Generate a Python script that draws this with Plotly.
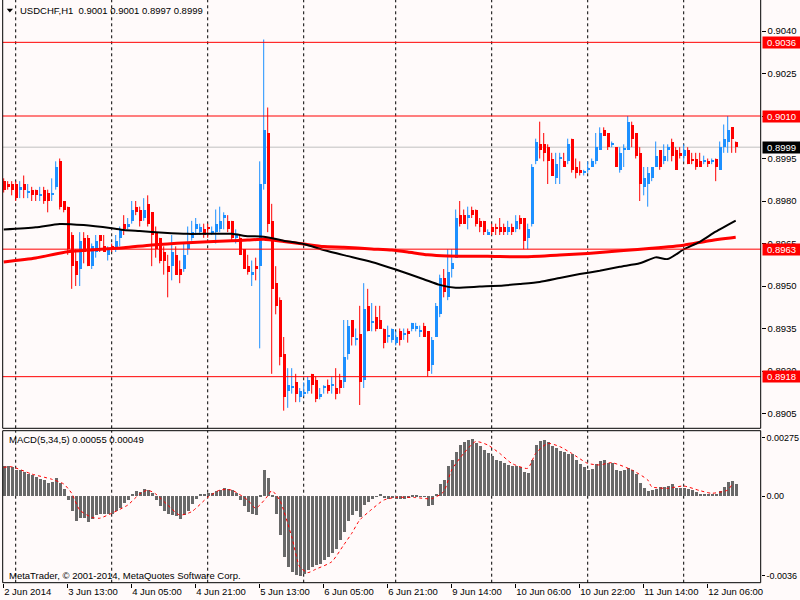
import plotly.graph_objects as go

# ---------------- data (USDCHF H1, bar index 0 = 2 Jun 2014 21:00) ----------------
opens = [
 .8987,.8986,.8986,
 .8986,.8984,.8986,.8983,.8984,.8984,.8982,.8984,.8983,.8982,.8985,.8994,.8980,.8978,.8968,.8959,.8956,.8967,.8967,.8957,.8962,.8968,.8964,.8961,
 .8964,.8963,.8967,.8972,.8971,.8973,.8978,.8977,.8974,.8979,.8976,.8969,.8967,.8962,.8957,.8957,.8961,.8956,.8956,.8963,.8967,.8970,.8969,.8970,
 .8971,.8969,.8969,.8970,.8974,.8973,.8973,.8967,.8967,.8963,.8957,.8954,.8957,.8957,.8986,.9004,.8973,.8951,.8945,.8926,.8913,.8914,.8916,.8911,
 .8912,.8913,.8919,.8917,.8911,.8914,.8915,.8915,.8914,.8917,.8916,.8926,.8938,.8931,.8933,.8917,.8943,.8937,.8939,.8938,.8935,.8932,.8931,
 .8930,.8934,.8933,.8934,.8935,.8935,.8934,.8936,.8934,.8922,.8932,.8940,.8953,.8946,.8956,.8960,.8975,.8975,.8974,.8977,.8977,.8973,.8973,.8968,
 .8971,.8971,.8971,.8971,.8969,.8971,.8970,.8974,.8974,.8967,.8972,.8994,.9000,.9000,.8999,.8995,.8988,.8995,.8994,.8994,.9002,.8992,.8991,.8990,
 .8991,.8992,.8994,.8998,.9005,.9004,.9000,.8999,.8991,.8998,.8998,.9007,.9004,.8997,.8985,.8986,.8988,.8992,.8998,.8994,.8998,.9001,.8998,.8997,
 .8996,.8998,.8995,.8995,.8994,.8994,.8994,.8994,.8995,.8991,.8999,.9001,.9006,.9001]
highs = [
 .8988,.8987,.8987,
 .8987,.8987,.8989,.8986,.8985,.8984,.8985,.8985,.8984,.8988,.8994,.8995,.8980,.8978,.8969,.8963,.8969,.8969,.8968,.8965,.8968,.8968,.8968,.8964,
 .8965,.8968,.8971,.8975,.8974,.8980,.8980,.8978,.8981,.8982,.8976,.8971,.8967,.8964,.8961,.8968,.8964,.8959,.8965,.8971,.8973,.8974,.8972,.8972,
 .8972,.8971,.8977,.8978,.8976,.8975,.8973,.8970,.8968,.8963,.8961,.8959,.8960,.8994,.9037,.9013,.8979,.8957,.8946,.8932,.8921,.8921,.8919,.8914,
 .8916,.8918,.8919,.8918,.8914,.8915,.8917,.8918,.8921,.8919,.8938,.8938,.8938,.8935,.8943,.8951,.8949,.8944,.8943,.8943,.8935,.8936,.8935,
 .8934,.8935,.8935,.8935,.8937,.8937,.8936,.8937,.8934,.8932,.8944,.8954,.8956,.8963,.8963,.8977,.8980,.8977,.8978,.8978,.8977,.8974,.8973,.8970,
 .8972,.8972,.8974,.8972,.8973,.8972,.8975,.8975,.8974,.8972,.8993,.9002,.9008,.9004,.9000,.8997,.8997,.8997,.8997,.9002,.9002,.8995,.8994,.8991,
 .8994,.8995,.9004,.9006,.9006,.9004,.9001,.8999,.8999,.9000,.9010,.9008,.9004,.8999,.8992,.8992,.8992,.9001,.8998,.9000,.9000,.9002,.8999,.8999,
 .9000,.8999,.8997,.8997,.8997,.8996,.8995,.8995,.8995,.9001,.9007,.9010,.9006,.9001]
lows = [
 .8983,.8984,.8982,
 .8980,.8981,.8981,.8981,.8980,.8980,.8980,.8979,.8976,.8980,.8984,.8977,.8976,.8961,.8949,.8950,.8950,.8958,.8957,.8956,.8960,.8962,.8962,.8959,
 .8962,.8962,.8964,.8968,.8970,.8972,.8975,.8971,.8973,.8971,.8957,.8960,.8958,.8954,.8946,.8952,.8954,.8951,.8955,.8961,.8966,.8968,.8968,.8967,
 .8967,.8968,.8965,.8969,.8970,.8969,.8966,.8965,.8961,.8956,.8954,.8950,.8952,.8928,.8984,.8969,.8919,.8940,.8922,.8906,.8907,.8912,.8909,.8909,
 .8911,.8912,.8912,.8909,.8910,.8912,.8912,.8912,.8910,.8912,.8914,.8924,.8929,.8929,.8908,.8914,.8934,.8934,.8934,.8935,.8928,.8930,.8930,
 .8929,.8929,.8931,.8930,.8934,.8934,.8932,.8932,.8918,.8919,.8932,.8939,.8946,.8945,.8953,.8960,.8971,.8972,.8970,.8974,.8971,.8969,.8968,.8968,
 .8968,.8968,.8968,.8968,.8968,.8968,.8969,.8970,.8963,.8963,.8971,.8993,.8995,.8994,.8986,.8989,.8986,.8986,.8992,.8993,.8990,.8988,.8989,.8989,
 .8990,.8992,.8993,.8998,.9003,.8998,.8999,.8992,.8990,.8992,.8998,.8999,.8995,.8980,.8982,.8978,.8987,.8992,.8991,.8993,.8994,.8994,.8991,.8995,
 .8994,.8993,.8993,.8991,.8992,.8993,.8992,.8993,.8987,.8991,.8997,.8997,.8997,.8997]
closes = [
 .8984,.8985,.8984,
 .8981,.8985,.8984,.8983,.8982,.8982,.8982,.8980,.8980,.8983,.8992,.8978,.8977,.8963,.8957,.8954,.8966,.8962,.8957,.8964,.8966,.8966,.8962,.8963,
 .8963,.8966,.8970,.8970,.8972,.8977,.8976,.8973,.8977,.8972,.8968,.8963,.8959,.8959,.8955,.8962,.8954,.8954,.8961,.8965,.8969,.8972,.8971,.8968,
 .8970,.8969,.8972,.8973,.8975,.8970,.8967,.8968,.8961,.8956,.8955,.8955,.8956,.8986,.9005,.8972,.8949,.8943,.8925,.8911,.8915,.8914,.8912,.8913,
 .8912,.8917,.8915,.8910,.8912,.8914,.8913,.8915,.8912,.8914,.8925,.8936,.8932,.8931,.8916,.8942,.8934,.8937,.8935,.8935,.8930,.8932,.8935,
 .8932,.8931,.8933,.8933,.8937,.8936,.8934,.8932,.8920,.8931,.8943,.8953,.8948,.8955,.8958,.8974,.8972,.8972,.8975,.8975,.8972,.8971,.8969,.8969,
 .8969,.8970,.8969,.8969,.8971,.8969,.8973,.8972,.8966,.8970,.8992,.9001,.8998,.8997,.8994,.8989,.8993,.8995,.8992,.9000,.8991,.8990,.8990,.8990,
 .8991,.8994,.8999,.9004,.9003,.8999,.9000,.8992,.8997,.8998,.9008,.9002,.8996,.8986,.8988,.8990,.8992,.8996,.8992,.8996,.8999,.8996,.8991,.8996,
 .8998,.8993,.8994,.8992,.8992,.8994,.8993,.8994,.8992,.8999,.9002,.9005,.9002,.8999]

ma_red_idx = [0, 8, 16, 30, 37, 46, 51, 57, 61, 65, 70, 75, 80, 85, 92, 97, 101, 106, 111, 121, 130, 139, 146, 155, 162, 170, 176, 183]
ma_red_val = [.89585, .89599, .89621, .89635, .89645, .89653, .89656, .89660, .89662, .89665, .89657, .89648, .89639, .89637,
              .89631, .89627, .89620, .89610, .89606, .89605, .89603, .89609, .89615, .89625, .89633, .89644, .89659, .89672]
ma_black_idx = [0, 8, 14, 20, 27, 30, 34, 40, 46, 57, 61, 65, 70, 75, 80, 85, 92, 98, 105, 109, 113, 119, 125, 129, 134, 139,
                144, 149, 154, 159, 163, 166, 170, 174, 178, 183]
ma_black_val = [.89699, .89707, .89719, .89715, .89704, .89698, .89694, .89688, .89684, .89684, .89676, .89674, .89660, .89648,
                .89627, .89609, .89585, .89558, .89524, .89504, .89494, .89498, .89502, .89507, .89514, .89528, .89542, .89554,
                .89568, .89580, .89601, .89595, .89629, .89656, .89692, .89731]

macd_hist = [
 .00132,.00132,.00129,
 .00118,.00115,.00107,.00097,.00093,.00085,.00078,.00071,.00059,.00063,.00082,.00059,.00034,-.00015,-.00065,-.00109,-.00094,-.00094,-.00113,-.00098,-.00084,-.00076,-.00079,-.00079,
 -.00079,-.00065,-.00050,-.00029,-.00015,.00012,.00024,.00019,.00034,.00029,.00015,-.00015,-.00044,-.00065,-.00079,-.00084,-.00088,-.00098,-.00084,-.00065,-.00035,-.00010,.00009,.00009,
 .00015,.00015,.00024,.00029,.00038,.00034,.00026,.00015,-.00015,-.00044,-.00069,-.00079,-.00084,.00004,.00115,.00082,.00003,-.00076,-.00172,-.00268,-.00312,-.00334,-.00348,-.00353,
 -.00341,-.00323,-.00312,-.00304,-.00297,-.00282,-.00268,-.00250,-.00231,-.00194,-.00157,-.00109,-.00084,-.00065,-.00091,-.00040,-.00025,-.00010,.00001,.00009,-.00006,-.00010,-.00006,
 -.00010,-.00010,-.00010,-.00006,.00003,.00004,.00001,-.00003,-.00044,-.00040,.00009,.00053,.00074,.00132,.00162,.00196,.00225,.00240,.00247,.00254,.00235,.00221,.00206,.00191,
 .00176,.00162,.00156,.00147,.00137,.00132,.00132,.00129,.00107,.00103,.00159,.00225,.00244,.00250,.00240,.00221,.00215,.00200,.00196,.00188,.00185,.00162,.00144,.00129,
 .00118,.00122,.00141,.00156,.00162,.00147,.00147,.00115,.00112,.00118,.00126,.00115,.00097,.00059,.00038,.00024,.00026,.00034,.00041,.00041,.00047,.00053,.00038,.00038,
 .00038,.00034,.00026,.00019,.00012,.00012,.00009,.00009,.00012,.00024,.00041,.00063,.00068,.00055]

sig_idx = [0, 2, 7, 12, 15, 17, 19, 22, 24, 27, 31, 34, 36, 38, 41, 44, 47, 51, 54, 57, 61, 63, 66, 67, 69, 72, 74, 76, 78,
           82, 85, 87, 89, 92, 95, 98, 103, 107, 110, 112, 115, 118, 121, 124, 127, 131, 133, 136, 139, 142, 146, 149, 152,
           157, 161, 162, 166, 170, 174, 177, 181, 182]
sig_val = [.00126, .00129, .00097, .00074, .00053, .00012, -.00062, -.00094, -.00098, -.00076, -.00040, .00009, .00026, .00009,
           -.00040, -.00084, -.00069, -.00006, .00026, .00026, -.00018, -.00054, .00000, .00024, -.00018, -.00179, -.00312,
           -.00338, -.00323, -.00290, -.00216, -.00165, -.00106, -.00059, -.00018, -.00006, -.00007, -.00012, .00019, .00115,
           .00188, .00240, .00225, .00188, .00144, .00122, .00188, .00232, .00218, .00188, .00144, .00137, .00147, .00115,
           .00071, .00041, .00034, .00044, .00024, .00012, .00026, .00049]

time_tick_idx = [0, 16, 32, 48, 64, 80, 96, 112, 128, 144, 160, 176]
time_tick_text = ["2 Jun 2014", "3 Jun 13:00", "4 Jun 05:00", "4 Jun 21:00", "5 Jun 13:00", "6 Jun 05:00",
                  "6 Jun 21:00", "9 Jun 14:00", "10 Jun 06:00", "10 Jun 22:00", "11 Jun 14:00", "12 Jun 06:00"]
day_start_idx = [3, 27, 51, 75, 98, 122, 146, 170]

price_ticks = [0.9040, 0.9025, 0.9010, 0.8995, 0.8980, 0.8965, 0.8950, 0.8935, 0.8920, 0.8905]
red_levels = [0.9036, 0.9010, 0.8963, 0.8918]
bid_level = 0.8999
macd_tick_vals = [0.00257, 0.0, -0.00351]
macd_tick_text = ["0.00275", "0.00", "-0.0036"]

# ---------------- styling ----------------
BG = "#FFFAFA"
BLUE = "#1E90FF"
RED = "#FF0000"
FONT = "Liberation Sans, Arial, sans-serif"
W, H = 800, 600

def px_x(p):
    return p / W

def px_y(p):
    return 1 - p / H

x_idx = list(range(len(opens)))
body_base = [min(o, c) for o, c in zip(opens, closes)]
body_h = [max(abs(c - o), 0.00004) for o, c in zip(opens, closes)]
body_col = [BLUE if c >= o else RED for o, c in zip(opens, closes)]

fig = go.Figure()

# wicks
for col, up in ((BLUE, True), (RED, False)):
    wx, wy = [], []
    for i in x_idx:
        if (closes[i] >= opens[i]) == up:
            wx += [i, i, None]
            wy += [lows[i], highs[i], None]
    fig.add_trace(go.Scatter(x=wx, y=wy, mode="lines", line=dict(color=col, width=1),
                             hoverinfo="skip", xaxis="x", yaxis="y"))

# bodies
fig.add_trace(go.Bar(x=x_idx, y=body_h, base=body_base, width=0.75, marker=dict(color=body_col, line=dict(width=0)),
                     hoverinfo="skip", xaxis="x", yaxis="y"))

# moving averages
fig.add_trace(go.Scatter(x=ma_red_idx, y=ma_red_val, mode="lines", line=dict(color=RED, width=3, shape="spline", smoothing=0.6),
                         hoverinfo="skip", xaxis="x", yaxis="y"))
fig.add_trace(go.Scatter(x=ma_black_idx, y=ma_black_val, mode="lines", line=dict(color="black", width=2, shape="spline", smoothing=0.6),
                         hoverinfo="skip", xaxis="x", yaxis="y"))

# MACD
fig.add_trace(go.Bar(x=x_idx, y=macd_hist, width=0.75, marker=dict(color="#696969", line=dict(width=0)),
                     hoverinfo="skip", xaxis="x2", yaxis="y2"))
fig.add_trace(go.Scatter(x=sig_idx, y=sig_val, mode="lines", line=dict(color=RED, width=1, dash="dot", shape="spline", smoothing=0.6),
                         hoverinfo="skip", xaxis="x2", yaxis="y2"))

x_dom = [px_x(2.7), px_x(760.7)]
x_rng = [(2.7 - 3.7) / 4, (760.7 - 3.7) / 4]
main_dom = [px_y(428.3), 1.0]
main_rng = [0.9040 - (428.3 - 31) * 0.0015 / 42.5, 0.9040 + 31 * 0.0015 / 42.5]
macd_dom = [px_y(582.7), px_y(430.7)]
macd_rng = [-(582.7 - 496) * 4.41e-5, (496 - 430.7) * 4.41e-5]

tickfont = dict(family=FONT, size=9.5, color="black")

shapes = []
# vertical dashed day grid
for d in day_start_idx:
    for dom in (main_dom, macd_dom):
        shapes.append(dict(type="line", xref="x", yref="paper", x0=d, x1=d, y0=dom[0], y1=dom[1],
                           line=dict(color="black", width=1, dash="3px,3px"), layer="below"))
# horizontal levels
for lv in red_levels:
    shapes.append(dict(type="line", xref="paper", yref="y", x0=x_dom[0], x1=x_dom[1], y0=lv, y1=lv,
                       line=dict(color=RED, width=1), layer="above"))
shapes.append(dict(type="line", xref="paper", yref="y", x0=x_dom[0], x1=x_dom[1], y0=bid_level, y1=bid_level,
                   line=dict(color="#C0C0C0", width=1), layer="below"))
# frames
shapes.append(dict(type="rect", xref="paper", yref="paper", x0=x_dom[0], x1=x_dom[1], y0=main_dom[0], y1=1.02,
                   line=dict(color="black", width=1), fillcolor="rgba(0,0,0,0)", layer="above"))
shapes.append(dict(type="rect", xref="paper", yref="paper", x0=x_dom[0], x1=x_dom[1], y0=macd_dom[0], y1=macd_dom[1],
                   line=dict(color="black", width=1), fillcolor="rgba(0,0,0,0)", layer="above"))
# little menu triangle
shapes.append(dict(type="path", xref="paper", yref="paper",
                   path=f"M {px_x(6.7)},{px_y(8.8)} L {px_x(13)},{px_y(8.8)} L {px_x(9.85)},{px_y(12.6)} Z",
                   fillcolor="black", line=dict(width=0)))

annotations = []
for lv in red_levels:
    annotations.append(dict(xref="paper", yref="y", x=px_x(762), y=lv, xanchor="left", yanchor="middle",
                             text=f"{lv:.4f}", showarrow=False, bgcolor=RED, width=37, height=11, borderpad=0,
                             font=dict(family=FONT, size=9.5, color="white")))
annotations.append(dict(xref="paper", yref="y", x=px_x(762), y=bid_level, xanchor="left", yanchor="middle",
                         text=f"{bid_level:.4f}", showarrow=False, bgcolor="black", width=37, height=11, borderpad=0,
                         font=dict(family=FONT, size=9.5, color="white")))
annotations.append(dict(xref="paper", yref="paper", x=px_x(18), y=px_y(10.8), xanchor="left", yanchor="middle",
                         text="USDCHF,H1\u00a0\u00a0" + f"{opens[-1]:.4f} {highs[-1]:.4f} {lows[-1]:.4f} {closes[-1]:.4f}",
                         showarrow=False, font=dict(family=FONT, size=9.5, color="black")))
annotations.append(dict(xref="paper", yref="paper", x=px_x(7), y=px_y(439), xanchor="left", yanchor="middle",
                         text=f"MACD(5,34,5) {macd_hist[-1]:.5f} {sig_val[-1]:.5f}",
                         showarrow=False, font=dict(family=FONT, size=9.5, color="black")))
annotations.append(dict(xref="paper", yref="paper", x=px_x(7), y=px_y(575), xanchor="left", yanchor="middle",
                         text="MetaTrader, \u00a9 2001-2014, MetaQuotes Software Corp.",
                         showarrow=False, font=dict(family=FONT, size=9.5, color="black")))

fig.update_layout(
    width=W, height=H, margin=dict(l=0, r=0, t=0, b=0, autoexpand=False),
    paper_bgcolor=BG, plot_bgcolor=BG, showlegend=False,
    barmode="overlay", bargap=0,
    font=dict(family=FONT, size=9.5, color="black"),
    xaxis=dict(domain=x_dom, range=x_rng, anchor="y", showgrid=False, zeroline=False,
               showticklabels=False, ticks="", showline=False),
    yaxis=dict(domain=main_dom, range=main_rng, side="right", anchor="x", showgrid=False, zeroline=False,
               tickmode="array", tickvals=price_ticks, ticktext=[f"{v:.4f}" for v in price_ticks],
               ticks="outside", ticklen=4, tickcolor="black", tickfont=tickfont, showline=False,
               ticklabeloverflow="allow"),
    xaxis2=dict(domain=x_dom, range=x_rng, anchor="y2", matches="x", showgrid=False, zeroline=False,
                tickmode="array", tickvals=time_tick_idx, ticktext=time_tick_text, tickangle=0,
                ticks="outside", ticklen=4, tickcolor="black", tickfont=tickfont,
                ticklabelposition="outside right", showline=False, ticklabeloverflow="allow"),
    yaxis2=dict(domain=macd_dom, range=macd_rng, side="right", anchor="x2", showgrid=False, zeroline=False,
                tickmode="array", tickvals=macd_tick_vals, ticktext=macd_tick_text,
                ticks="outside", ticklen=3, tickcolor="black", tickfont=dict(family=FONT, size=9, color="black"),
                showline=False, ticklabeloverflow="allow"),
    shapes=shapes, annotations=annotations,
)

fig.write_html("out.html", config={"displayModeBar": False},
               post_script="document.body.style.margin='0';document.body.style.padding='0';document.body.style.overflow='hidden';")
